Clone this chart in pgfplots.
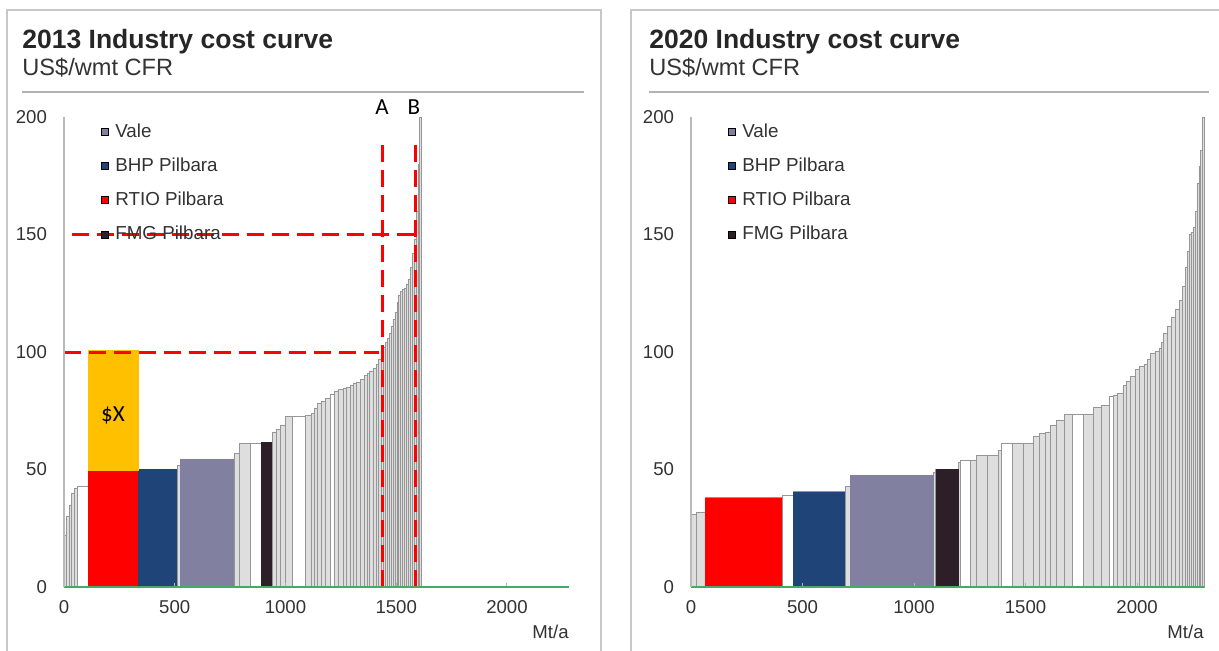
\documentclass[border=0pt]{standalone}
\usepackage{fontspec}
\setmainfont{Liberation Sans}
\newfontfamily\calibri{Carlito}
\usepackage{pgfplots}
\pgfplotsset{compat=1.18}
\definecolor{vale}{RGB}{129,128,160}
\definecolor{bhp}{RGB}{31,69,120}
\definecolor{rtio}{RGB}{255,0,0}
\definecolor{fmg}{RGB}{45,31,40}
\definecolor{xyellow}{RGB}{255,192,0}
\definecolor{axisgreen}{RGB}{70,170,100}
\definecolor{ticktext}{RGB}{50,50,50}
\definecolor{curvefill}{RGB}{222,222,222}
\definecolor{curvedraw}{RGB}{150,150,150}
\definecolor{framegray}{RGB}{200,200,200}
\pgfplotsset{
  costaxis/.style={
    scale only axis, height=235pt, ymin=0, ymax=200, xmin=0,
    axis x line=bottom, axis y line=left,
    axis line style={-},
    x axis line style={draw=axisgreen, line width=1pt},
    y axis line style={draw=gray!55, line width=0.6pt},
    xtick={0,500,1000,1500,2000}, ytick={0,50,100,150,200},
    major tick length=2pt, tick align=inside,
    xtick style={draw=gray!60, line width=0.5pt},
    ytick style={draw=none},
    tick label style={font=\fontsize{9.3}{10}\selectfont, text=ticktext},
    /pgf/number format/assume math mode=true,
    /pgf/number format/1000 sep={},
    xticklabel style={yshift=-3pt},
    yticklabel style={xshift=-5pt},
    xlabel={Mt/a},
    xlabel style={at={(rel axis cs:1,0)}, anchor=north east, yshift=-19pt, inner sep=0pt, font=\fontsize{9.3}{10}\selectfont, text=ticktext},
    axis on top, clip=false,
    legend style={draw=none, fill=none, font=\fontsize{9.4}{11}\selectfont, text=ticktext, anchor=north west, row sep=4.75pt, column sep=1.5pt, inner sep=0pt, cells={anchor=west}},
    legend image code/.code={\fill[##1] (0pt,-1.75pt) rectangle (3.5pt,1.75pt);},
  },
  curve/.style={ybar interval, fill=curvefill, draw=curvedraw, line width=0.25pt, forget plot},
  whitebar/.style={ybar interval, fill=white, draw=curvedraw, line width=0.25pt, forget plot},
}
\begin{document}
\begin{tikzpicture}
\path[use as bounding box] (0,0) rectangle (609.5pt,325pt);
% frames
\draw[framegray, line width=1pt] (3.5pt,-5pt) -- (3.5pt,320pt) -- (300.5pt,320pt) -- (300.5pt,-5pt);
\draw[framegray, line width=1pt] (315.5pt,-5pt) -- (315.5pt,320pt) -- (616pt,320pt);
% titles
\node[anchor=base west, inner sep=0pt, font=\bfseries\fontsize{13.25}{14}\selectfont, text=black!85] at (11pt,301pt) {2013 Industry cost curve};
\node[anchor=base west, inner sep=0pt, font=\fontsize{11.8}{13}\selectfont, text=black!80] at (11pt,287.5pt) {US\$/wmt CFR};
\draw[gray!60, line width=0.7pt] (11pt,279pt) -- (292pt,279pt);
\node[anchor=base west, inner sep=0pt, font=\bfseries\fontsize{13.25}{14}\selectfont, text=black!85] at (324.5pt,301pt) {2020 Industry cost curve};
\node[anchor=base west, inner sep=0pt, font=\fontsize{11.8}{13}\selectfont, text=black!80] at (324.5pt,287.5pt) {US\$/wmt CFR};
\draw[gray!60, line width=0.7pt] (324.5pt,279pt) -- (604.5pt,279pt);

% ---------------- 2013 ----------------
\begin{axis}[costaxis, at={(32pt,31.5pt)}, anchor=south west, width=252.5pt, xmax=2280,
  legend style={at={(axis cs:163,199)}}]
\addlegendimage{fill=vale}\addlegendentry{Vale}
\addlegendimage{fill=bhp}\addlegendentry{BHP Pilbara}
\addlegendimage{fill=rtio}\addlegendentry{RTIO Pilbara}
\addlegendimage{fill=fmg}\addlegendentry{FMG Pilbara}
\addplot[curve] coordinates {
(0,22) (10,30) (22,35) (32,40) (45,42) (60,43) (108,49.5) (334,50.2) (510,52) (524,54.5)
(768,57) (790,61) (840,61) (889,61.5) (940,66) (958,67) (976,69) (1000,72.5) (1030,72.5) (1060,72.5)
(1090,73) (1117,74) (1130,76) (1143,78) (1160,79) (1178,80.5) (1200,82) (1222,83.5) (1240,84) (1260,84.5) (1276,85)
(1292,86) (1306,86.5) (1320,87) (1337,88.5) (1354,90) (1367,91) (1380,92) (1395,93) (1410,95) (1421,97)
(1432,100) (1441,102) (1450,104) (1459,106) (1468,108) (1476,111) (1485,114) (1494,117) (1503,121) (1511,124)
(1520,126) (1529,126.5) (1538,127) (1546,129) (1555,131) (1564,136) (1573,142) (1582,148) (1591,160)
(1600,180) (1606,200) (1612,200)};
\addplot[whitebar] coordinates {(60,43) (108,43)};
\addplot[whitebar] coordinates {(840,61) (889,61)};
\addplot[whitebar] coordinates {(1030,72.5) (1090,72.5)};
\addplot[whitebar] coordinates {(1200,82) (1222,82)};
\addplot[ybar interval, fill=rtio, draw=none, forget plot] coordinates {(108,49.5) (334,49.5)};
\addplot[ybar interval, fill=bhp, draw=none, forget plot] coordinates {(334,50.2) (510,50.2)};
\addplot[ybar interval, fill=vale, draw=none, forget plot] coordinates {(524,54.5) (768,54.5)};
\addplot[ybar interval, fill=fmg, draw=none, forget plot] coordinates {(889,61.5) (940,61.5)};
\addplot[fill=xyellow, draw=none, forget plot] coordinates {(108,49.5) (338,49.5) (338,101) (108,101)} -- cycle;
\addplot[rtio, line width=1.5pt, dash pattern=on 8.5pt off 4pt, forget plot] coordinates {(1436,0) (1436,190)};
\addplot[rtio, line width=1.5pt, dash pattern=on 8.5pt off 4pt, forget plot] coordinates {(1589,0) (1589,190)};
\addplot[rtio, line width=1.5pt, dash pattern=on 8.5pt off 4pt, forget plot] coordinates {(36,150) (1589,150)};
\addplot[rtio, line width=1.5pt, dash pattern=on 8.5pt off 4pt, forget plot] coordinates {(0,100) (1420,100)};
\node[font=\calibri\fontsize{11.5}{12}\selectfont] at (axis cs:1436,204) {A};
\node[font=\calibri\fontsize{11.5}{12}\selectfont] at (axis cs:1580,204) {B};
\node[font=\calibri\fontsize{11.5}{12}\selectfont] at (axis cs:221,73) {\$X};
\end{axis}

% ---------------- 2020 ----------------
\begin{axis}[costaxis, at={(345.5pt,31.5pt)}, anchor=south west, width=256.5pt, xmax=2300,
  legend style={at={(axis cs:162,199)}}]
\addlegendimage{fill=vale}\addlegendentry{Vale}
\addlegendimage{fill=bhp}\addlegendentry{BHP Pilbara}
\addlegendimage{fill=rtio}\addlegendentry{RTIO Pilbara}
\addlegendimage{fill=fmg}\addlegendentry{FMG Pilbara}
\addplot[curve] coordinates {
(0,31) (25,32) (63,38) (409,39) (458,40.6) (692,42.7) (715,47.7) (1088,49) (1097,50.2) (1200,53)
(1209,54) (1250,54) (1280,56.2) (1330,56.2) (1376,58.3) (1393,61.3) (1440,61.3) (1490,61.3) (1533,64)
(1560,65.5) (1590,66) (1612,69) (1638,71) (1673,73.6) (1710,73.6) (1760,73.6) (1805,76.7) (1840,77.4)
(1874,81) (1892,81.5) (1909,82.5) (1936,86) (1953,87.5) (1971,89.5) (1990,92.5) (2010,94) (2031,95) (2045,97)
(2058,99.6) (2080,100.5) (2101,101.7) (2110,104) (2119,108) (2137,111) (2154,115) (2172,118) (2189,122)
(2202,128) (2215,136) (2224,143) (2233,150) (2241,151) (2250,153) (2260,160) (2268,172) (2277,179) (2285,186)
(2294,200) (2300,200)};
\addplot[whitebar] coordinates {(409,39) (458,39)};
\addplot[whitebar] coordinates {(1209,54) (1250,54)};
\addplot[whitebar] coordinates {(1393,61.3) (1440,61.3)};
\addplot[whitebar] coordinates {(1710,73.6) (1760,73.6)};
\addplot[whitebar] coordinates {(1874,81) (1892,81)};
\addplot[ybar interval, fill=rtio, draw=none, forget plot] coordinates {(63,38) (409,38)};
\addplot[ybar interval, fill=bhp, draw=none, forget plot] coordinates {(458,40.6) (692,40.6)};
\addplot[ybar interval, fill=vale, draw=none, forget plot] coordinates {(715,47.7) (1088,47.7)};
\addplot[ybar interval, fill=fmg, draw=none, forget plot] coordinates {(1097,50.2) (1200,50.2)};
\end{axis}
\end{tikzpicture}
\end{document}
